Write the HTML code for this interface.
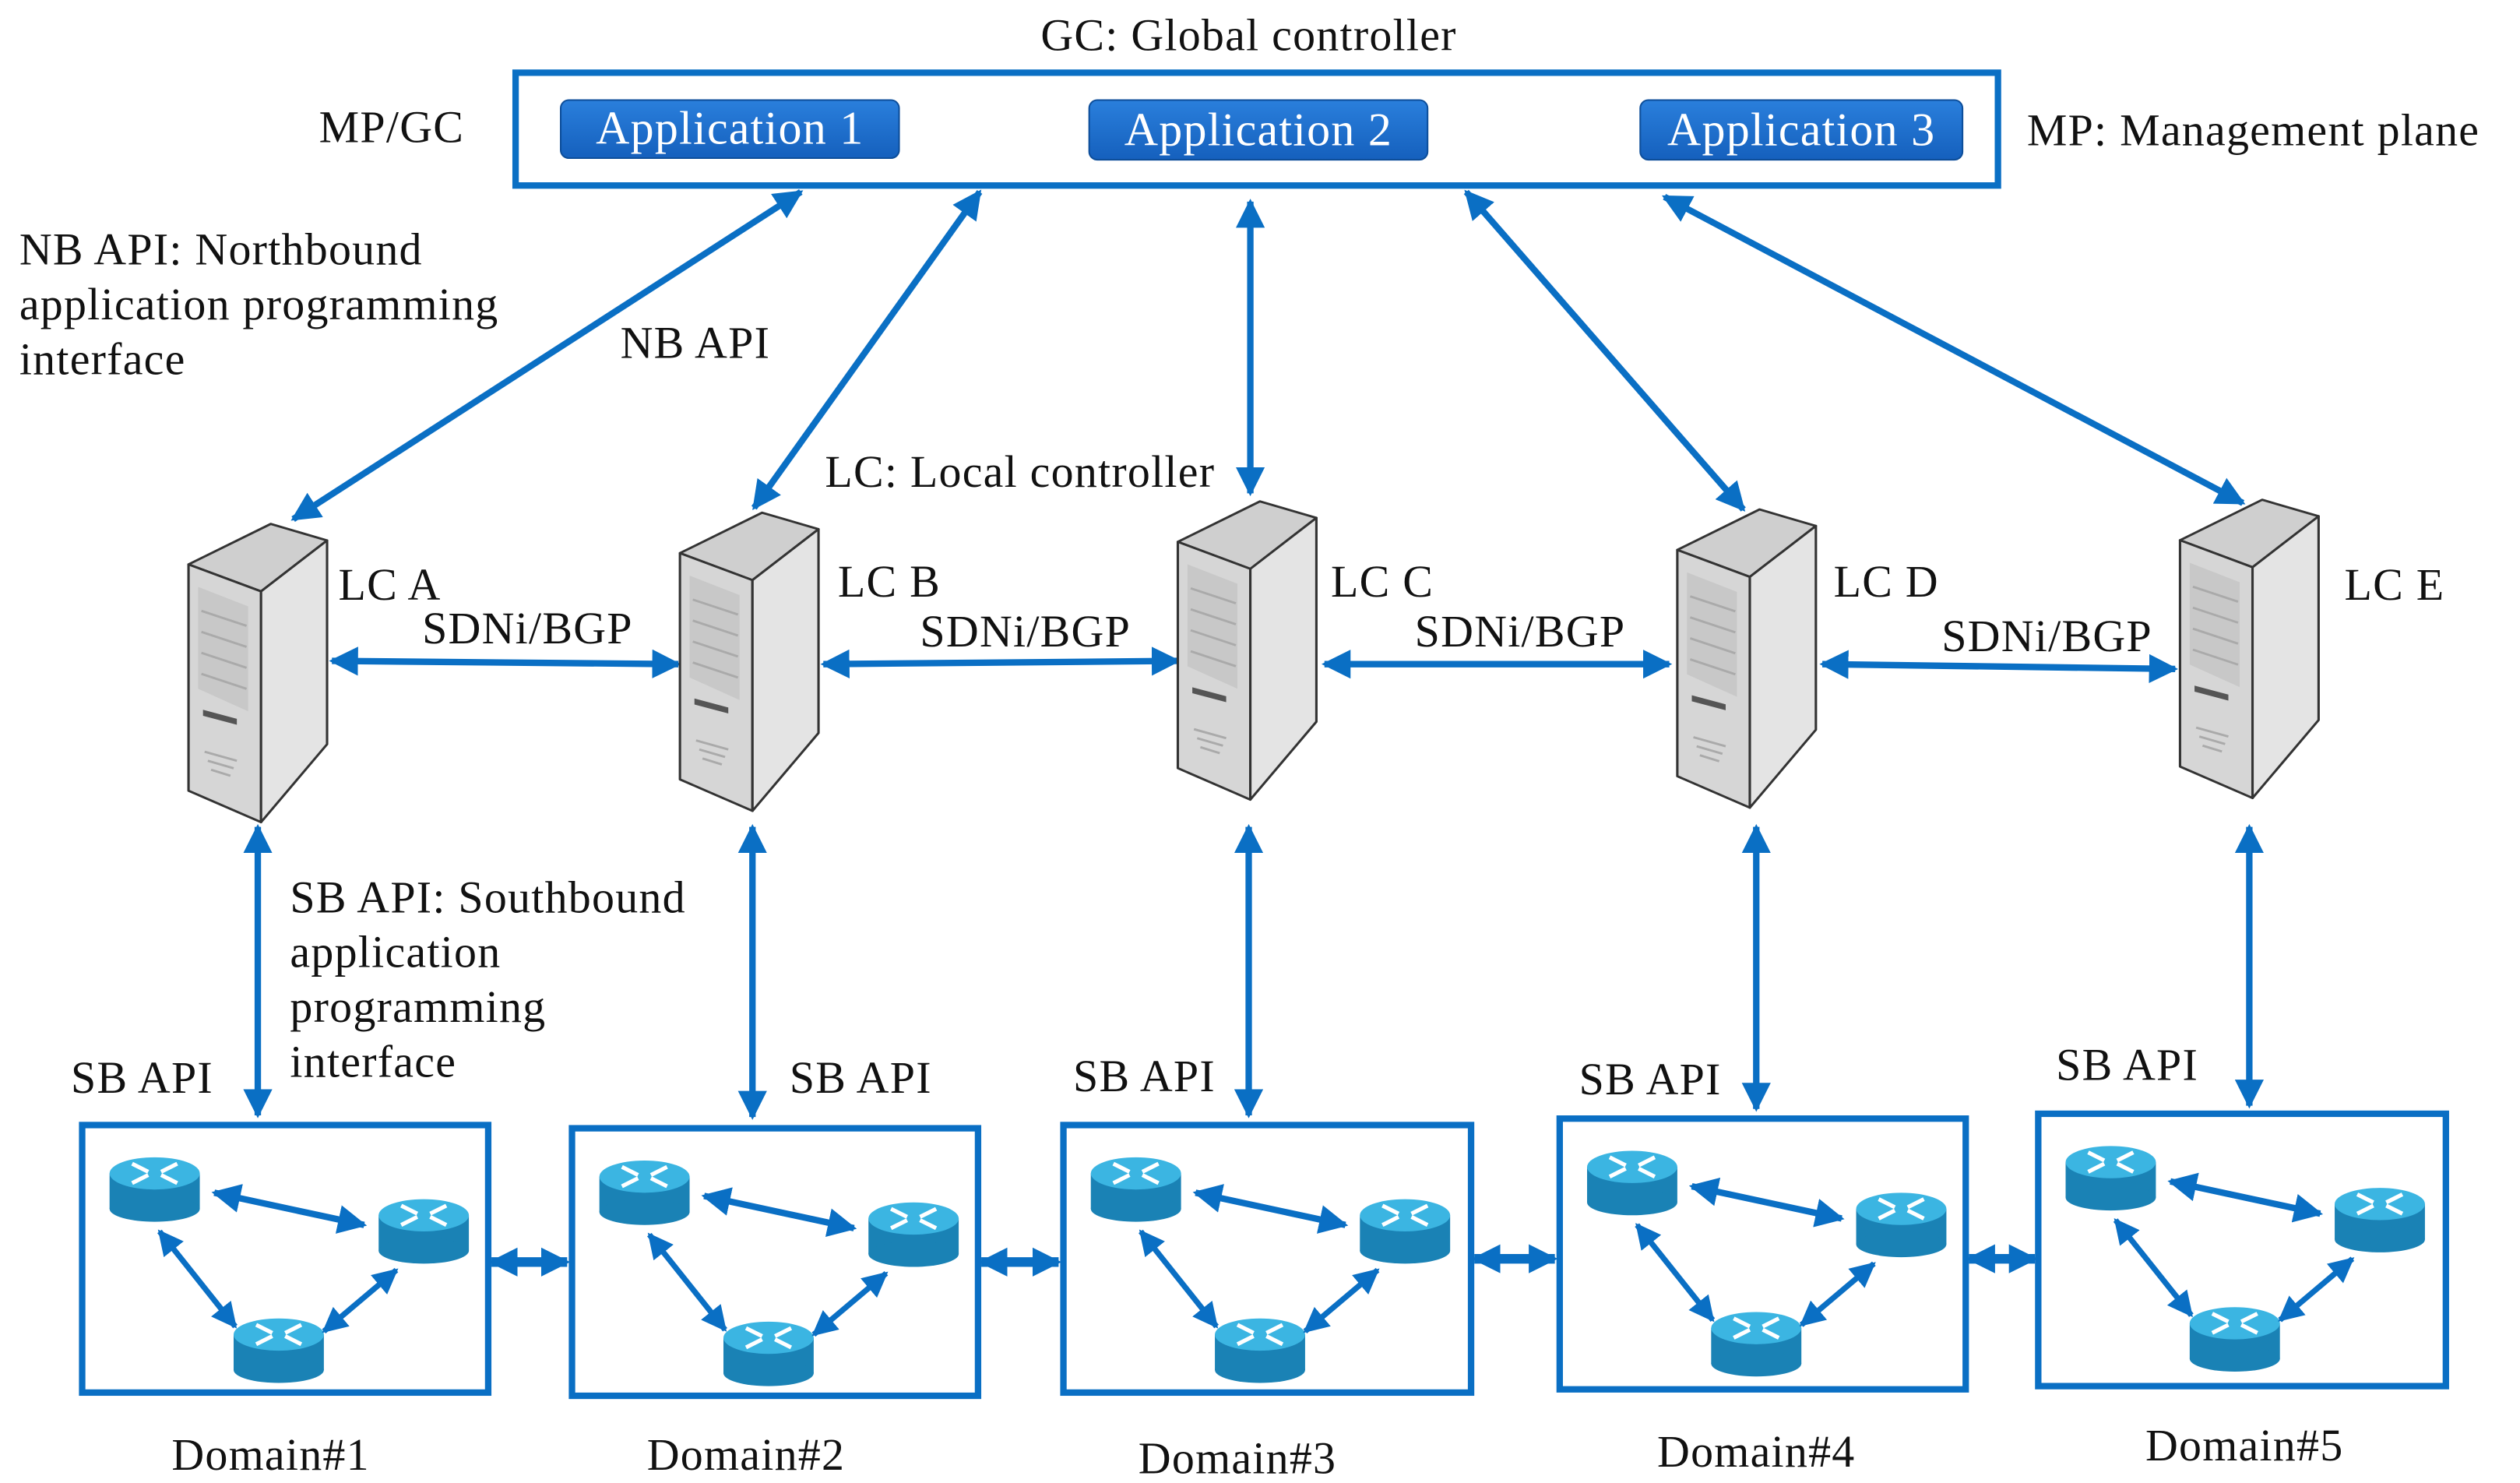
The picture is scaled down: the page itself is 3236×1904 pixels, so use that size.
<!DOCTYPE html>
<html><head><meta charset="utf-8"><style>
html,body{margin:0;padding:0;background:#fff}
svg{display:block}
text{font-family:"Liberation Serif",serif;fill:#111;letter-spacing:0.6px}
</style></head><body>
<svg width="3236" height="1904" viewBox="0 0 1564 920" xmlns="http://www.w3.org/2000/svg">
<defs>
<marker id="a" viewBox="0 0 10 10" refX="9" refY="5" markerWidth="4.5" markerHeight="4.5" orient="auto-start-reverse"><path d="M0,0 L10,5 L0,10 Z" fill="#0a6fc4"/></marker>
<marker id="b" viewBox="0 0 10 10" refX="9" refY="5" markerWidth="3" markerHeight="3.6" orient="auto-start-reverse"><path d="M0,0 L10,5 L0,10 Z" fill="#0a6fc4"/></marker>
<linearGradient id="app" x1="0" y1="0" x2="0" y2="1"><stop offset="0" stop-color="#2a7fdc"/><stop offset="1" stop-color="#1560bd"/></linearGradient>
<linearGradient id="rt" x1="0" y1="0" x2="0" y2="1"><stop offset="0" stop-color="#37b3e0"/><stop offset="1" stop-color="#1787b8"/></linearGradient>
<g id="srv">
<g transform="scale(1,0.93)">
<path d="M0,27 L51,0 L86,11 L45,45 Z" fill="#cfcfcf" stroke="#333" stroke-width="1.5" stroke-linejoin="round"/>
<path d="M0,27 L45,45 L45,199 L0,178 Z" fill="#d6d6d6" stroke="#333" stroke-width="1.5" stroke-linejoin="round"/>
<path d="M45,45 L86,11 L86,147 L45,199 Z" fill="#e4e4e4" stroke="#333" stroke-width="1.5" stroke-linejoin="round"/>
<path d="M6,42 L37,55 L37,125 L6,110 Z" fill="#c8c8c8"/>
<path d="M8,58 L36,68 M8,72 L36,82 M8,86 L36,96 M8,100 L36,110" stroke="#aaa" stroke-width="1.5"/>
<path d="M9,124 L30,130 L30,134 L9,128 Z" fill="#555"/>
<path d="M10,152 L30,158 M12,158 L28,163 M14,164 L26,168" stroke="#aaa" stroke-width="1.5"/>
</g>
</g>
<g id="rtr">
<rect x="-28" y="-8" width="56" height="22" fill="#1a82b5"/>
<ellipse cx="0" cy="14" rx="28" ry="8" fill="#1a82b5"/>
<ellipse cx="0" cy="-8" rx="28" ry="10" fill="#3bb5e2"/>
<path d="M-14,-14 L-4,-9 M14,-14 L4,-9 M-14,-2 L-4,-7 M14,-2 L4,-7" stroke="#fff" stroke-width="2.5"/>
</g>
<g id="dom">
<use href="#rtr" x="45" y="38"/>
<use href="#rtr" x="212" y="64"/>
<use href="#rtr" x="122" y="138"/>
<line x1="82" y1="42" x2="175" y2="62" stroke="#0a6fc4" stroke-width="4" marker-start="url(#a)" marker-end="url(#a)"/>
<line x1="48" y1="66" x2="95" y2="125" stroke="#0a6fc4" stroke-width="3.5" marker-start="url(#a)" marker-end="url(#a)"/>
<line x1="150" y1="128" x2="195" y2="90" stroke="#0a6fc4" stroke-width="3.5" marker-start="url(#a)" marker-end="url(#a)"/>
</g>
</defs>

<text x="775" y="31" font-size="28" text-anchor="middle">GC: Global controller</text>
<rect x="320" y="45" width="920" height="70" fill="none" stroke="#0a6fc4" stroke-width="4"/>
<rect x="348" y="62" width="210" height="36" rx="5" fill="url(#app)" stroke="#0d4e9a"/>
<rect x="676" y="62" width="210" height="37" rx="5" fill="url(#app)" stroke="#0d4e9a"/>
<rect x="1018" y="62" width="200" height="37" rx="5" fill="url(#app)" stroke="#0d4e9a"/>
<text x="453" y="89" font-size="29" text-anchor="middle" style="fill:#fff">Application 1</text>
<text x="781" y="90" font-size="29" text-anchor="middle" style="fill:#fff">Application 2</text>
<text x="1118" y="90" font-size="29" text-anchor="middle" style="fill:#fff">Application 3</text>
<text x="198" y="88" font-size="28">MP/GC</text>
<text x="1258" y="90" font-size="28">MP: Management plane</text>

<text font-size="28"><tspan x="12" y="164">NB API: Northbound</tspan><tspan x="12" y="198">application programming</tspan><tspan x="12" y="232">interface</tspan></text>
<text x="385" y="222" font-size="28">NB API</text>
<text x="512" y="302" font-size="28">LC: Local controller</text>

<g stroke="#0a6fc4" stroke-width="4" fill="none">
<line x1="497" y1="119" x2="182" y2="322" marker-start="url(#a)" marker-end="url(#a)"/>
<line x1="608" y1="119" x2="468" y2="315" marker-start="url(#a)" marker-end="url(#a)"/>
<line x1="776" y1="125" x2="776" y2="306" marker-start="url(#a)" marker-end="url(#a)"/>
<line x1="910" y1="119" x2="1082" y2="316" marker-start="url(#a)" marker-end="url(#a)"/>
<line x1="1033" y1="122" x2="1392" y2="312" marker-start="url(#a)" marker-end="url(#a)"/>
<line x1="206" y1="410" x2="421" y2="412" marker-start="url(#a)" marker-end="url(#a)"/>
<line x1="511" y1="412" x2="731" y2="410" marker-start="url(#a)" marker-end="url(#a)"/>
<line x1="822" y1="412" x2="1036" y2="412" marker-start="url(#a)" marker-end="url(#a)"/>
<line x1="1131" y1="412" x2="1350" y2="415" marker-start="url(#a)" marker-end="url(#a)"/>
<line x1="160" y1="513" x2="160" y2="692" marker-start="url(#a)" marker-end="url(#a)"/>
<line x1="467" y1="513" x2="467" y2="693" marker-start="url(#a)" marker-end="url(#a)"/>
<line x1="775" y1="513" x2="775" y2="692" marker-start="url(#a)" marker-end="url(#a)"/>
<line x1="1090" y1="513" x2="1090" y2="688" marker-start="url(#a)" marker-end="url(#a)"/>
<line x1="1396" y1="513" x2="1396" y2="686" marker-start="url(#a)" marker-end="url(#a)"/>
<line x1="305" y1="783" x2="352" y2="783" stroke-width="6" marker-start="url(#b)" marker-end="url(#b)"/>
<line x1="609" y1="783" x2="657" y2="783" stroke-width="6" marker-start="url(#b)" marker-end="url(#b)"/>
<line x1="915" y1="781" x2="965" y2="781" stroke-width="6" marker-start="url(#b)" marker-end="url(#b)"/>
<line x1="1222" y1="781" x2="1263" y2="781" stroke-width="6" marker-start="url(#b)" marker-end="url(#b)"/>
</g>

<use href="#srv" x="117" y="325"/>
<use href="#srv" x="422" y="318"/>
<use href="#srv" x="731" y="311"/>
<use href="#srv" x="1041" y="316"/>
<use href="#srv" x="1353" y="310"/>

<g font-size="28">
<text x="210" y="372">LC A</text><text x="520" y="370">LC B</text><text x="826" y="370">LC C</text><text x="1138" y="370">LC D</text><text x="1455" y="372">LC E</text>
<text x="262" y="399">SDNi/BGP</text><text x="571" y="401">SDNi/BGP</text><text x="878" y="401">SDNi/BGP</text><text x="1205" y="404">SDNi/BGP</text>
<text x="180" y="566">SB API: Southbound</text><text x="180" y="600">application</text><text x="180" y="634">programming</text><text x="180" y="668">interface</text>
<text x="44" y="678">SB API</text><text x="490" y="678">SB API</text><text x="666" y="677">SB API</text><text x="980" y="679">SB API</text><text x="1276" y="670">SB API</text>
<text x="168" y="912" text-anchor="middle">Domain#1</text><text x="463" y="912" text-anchor="middle">Domain#2</text><text x="768" y="914" text-anchor="middle">Domain#3</text><text x="1090" y="910" text-anchor="middle">Domain#4</text><text x="1393" y="906" text-anchor="middle">Domain#5</text>
</g>

<g fill="none" stroke="#0a6fc4" stroke-width="4">
<rect x="51" y="698" width="252" height="166"/>
<rect x="355" y="700" width="252" height="166"/>
<rect x="660" y="698" width="253" height="166"/>
<rect x="968" y="694" width="252" height="168"/>
<rect x="1265" y="691" width="253" height="169"/>
</g>
<use href="#dom" x="51" y="698"/>
<use href="#dom" x="355" y="700"/>
<use href="#dom" x="660" y="698"/>
<use href="#dom" x="968" y="694"/>
<use href="#dom" x="1265" y="691"/>
</svg>
</body></html>
